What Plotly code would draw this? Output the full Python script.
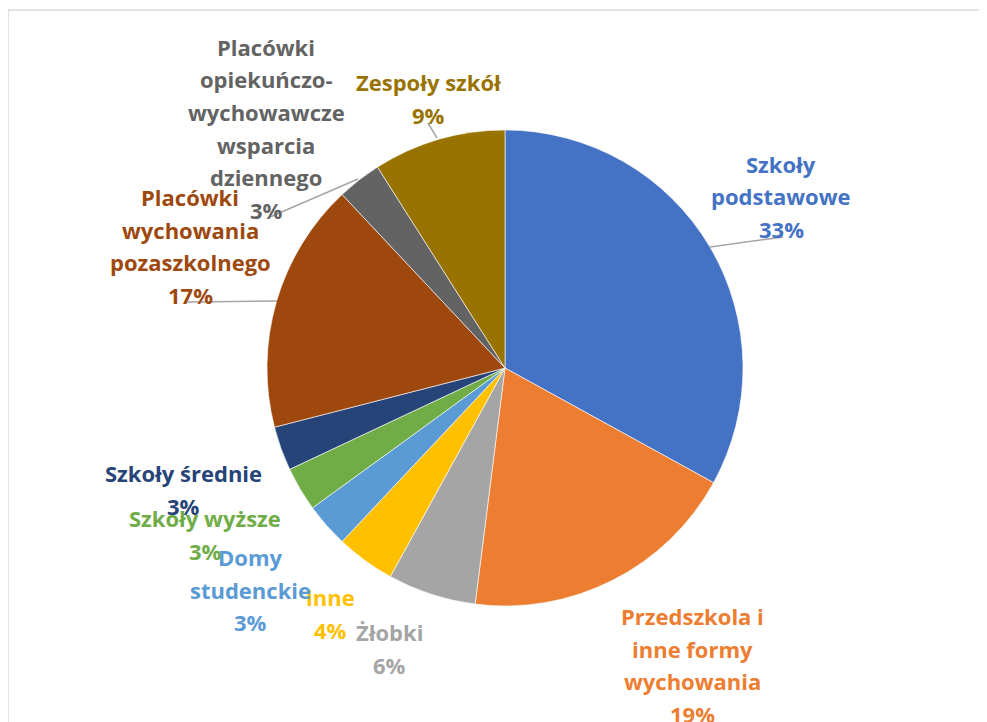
import plotly.graph_objects as go

# Dane
kategorie = [
    "Szkoły podstawowe",
    "Przedszkola i inne formy wychowania",
    "Żłobki",
    "Inne",
    "Domy studenckie",
    "Szkoły wyższe",
    "Szkoły średnie",
    "Placówki wychowania pozaszkolnego",
    "Placówki opiekuńczo-wychowawcze wsparcia dziennego",
    "Zespoły szkół",
]
udzialy = [33, 19, 6, 4, 3, 3, 3, 17, 3, 9]
etykiety = [
    ["Szkoły", "podstawowe"],
    ["Przedszkola i", "inne formy", "wychowania"],
    ["Żłobki"],
    ["inne"],
    ["Domy", "studenckie"],
    ["Szkoły wyższe"],
    ["Szkoły średnie"],
    ["Placówki", "wychowania", "pozaszkolnego"],
    ["Placówki", "opiekuńczo-", "wychowawcze", "wsparcia", "dziennego"],
    ["Zespoły szkół"],
]

KOLORY = ["#4472C4", "#ED7D31", "#A5A5A5", "#FFC000", "#5B9BD5",
          "#70AD47", "#264478", "#9E480E", "#636363", "#997300"]

# strona ma margines 8 px, więc figura zaczyna się w (8, 8)
OFF = 8
W, H = 987 - OFF, 722 - OFF
LINE_H = 32.5
FONT = "Open Sans"

# pozycje etykiet (środek pierwszej linii, piksele okna)
POZ_ETYKIET = [
    (781, 164), (692, 616), (389, 632), (330, 597), (250, 557),
    (205, 518), (183, 473), (190, 197), (266, 47), (428, 82),
]
# linie odniesienia (x0, y0, x1, y1), piksele okna
LINIE = [
    (710, 247, 783, 237),
    (188, 302, 277, 301),
    (270, 217, 358, 179),
    (428, 123, 437, 138),
]

CX, CY, R = 505, 368, 238


def px(x):
    return (x - OFF) / W


def py(y):
    return 1 - (y - OFF) / H


fig = go.Figure()
fig.add_trace(go.Pie(
    labels=kategorie,
    values=udzialy,
    sort=False,
    direction="clockwise",
    rotation=0,
    textinfo="none",
    marker=dict(colors=KOLORY, line=dict(color="white", width=0.6)),
    domain=dict(x=[px(CX - R), px(CX + R)], y=[py(CY + R), py(CY - R)]),
    showlegend=False,
    hoverinfo="label+percent",
))

annotations = []
for linie, wart, kolor, (x0, y0) in zip(etykiety, udzialy, KOLORY, POZ_ETYKIET):
    for i, tekst in enumerate(linie + [f"{wart}%"]):
        annotations.append(dict(
            x=px(x0), y=py(y0 + i * LINE_H),
            xref="paper", yref="paper",
            text=f"<b>{tekst}</b>",
            showarrow=False,
            xanchor="center", yanchor="middle",
            font=dict(family=FONT, size=22, color=kolor),
        ))

shapes = [
    dict(type="line", xref="paper", yref="paper",
         x0=px(x0), y0=py(y0), x1=px(x1), y1=py(y1),
         line=dict(color="#A6A6A6", width=1.5))
    for x0, y0, x1, y1 in LINIE
]
# ramka obszaru wykresu
shapes.append(dict(type="line", xref="paper", yref="paper",
                   x0=px(5), y0=py(10), x1=1, y1=py(10),
                   line=dict(color="#D9D9D9", width=1.5)))
shapes.append(dict(type="line", xref="paper", yref="paper",
                   x0=px(8), y0=py(10), x1=px(8), y1=0,
                   line=dict(color="#D9D9D9", width=1.5)))

fig.update_layout(
    width=W, height=H,
    margin=dict(l=0, r=0, t=0, b=0),
    paper_bgcolor="white",
    plot_bgcolor="white",
    annotations=annotations,
    shapes=shapes,
)

fig.write_html("out.html")
